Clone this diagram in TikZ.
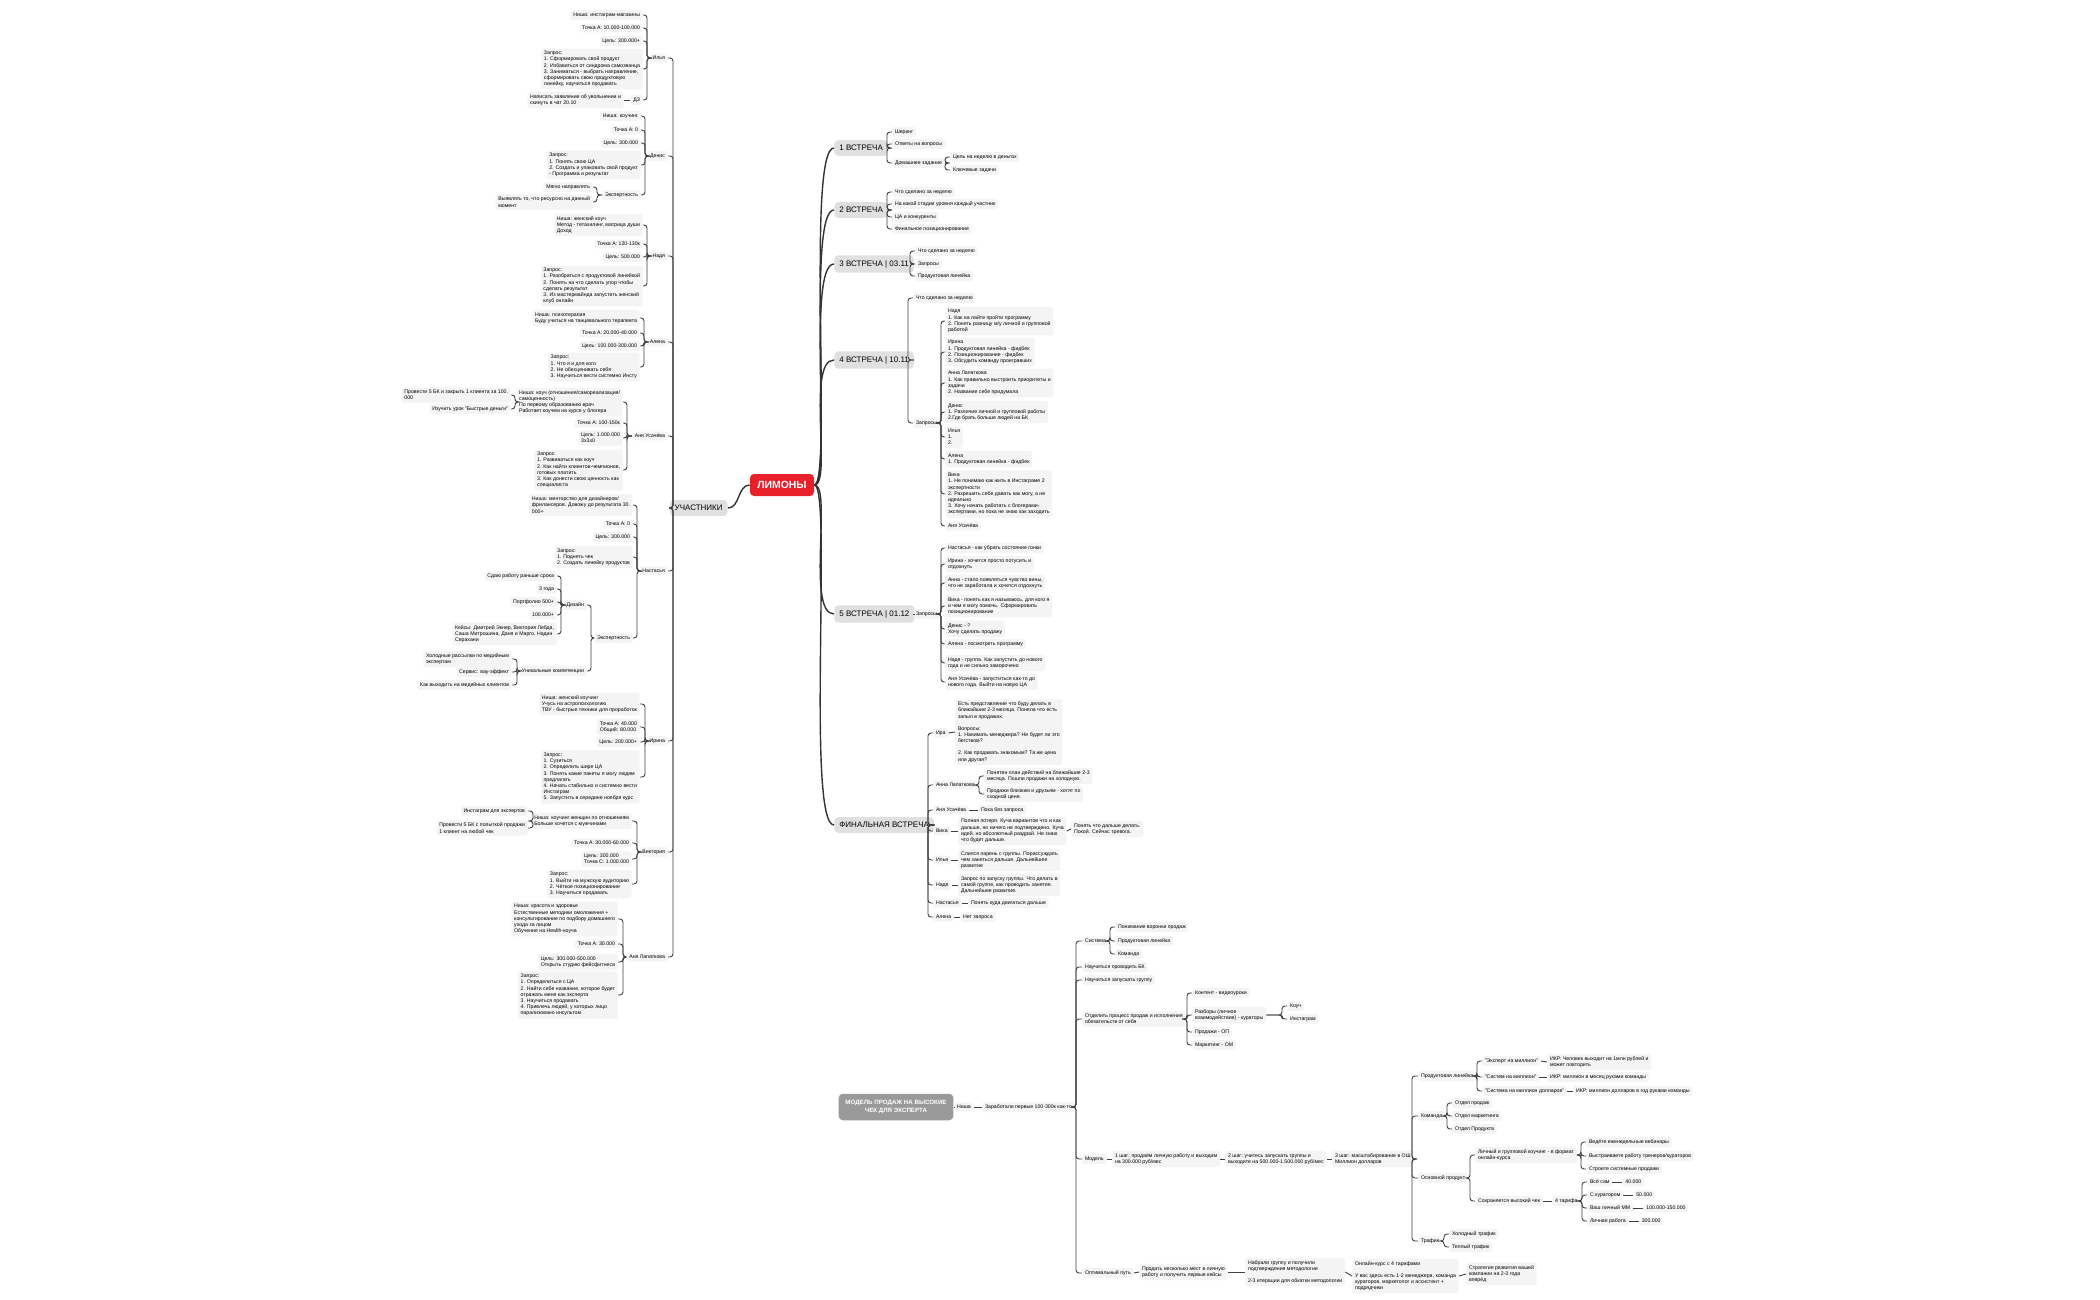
\documentclass[tikz,border=0pt]{standalone}
\usepackage{fontspec}
\setmainfont{Liberation Sans}
\usetikzlibrary{positioning}
\definecolor{lfc}{HTML}{F4F4F4}
\definecolor{limred}{HTML}{E8202A}
\newcommand\ft{\fontsize{2.6}{3.1}\selectfont}
\newcommand\Lc[3]{\draw[ed] (#1.west) -- (perpendicular cs: horizontal line through={(#1.west)}, vertical line through={(#3,0)}) |- (#2.east);}
\newcommand\Rc[3]{\draw[ed] (#1.east) -- (perpendicular cs: horizontal line through={(#1.east)}, vertical line through={(#3,0)}) |- (#2.west);}
\newcommand\Ln[2]{\draw[ed] (#1.east) -- (#2.west);}
\tikzset{
  lf/.style={fill=lfc, rounded corners=1.2pt, inner sep=1.3pt, align=left, font=\ft},
  lL/.style={lf, anchor=east},
  lR/.style={lf, anchor=west},
  meet/.style={fill=black!12, rounded corners=2pt, inner sep=2.5pt, minimum height=7.5pt, anchor=west, font=\fontsize{4}{5}\selectfont},
  ed/.style={draw=black!75, line width=0.45pt, rounded corners=1.5pt},
  big/.style={draw=black!80, line width=0.7pt},
}
\begin{document}
\begin{tikzpicture}[x=0.5pt,y=-0.5pt]
\useasboundingbox (0,0) rectangle (2100,1300);
\fill[white] (0,0) rectangle (2100,1300);
% centre
\node[fill=limred, text=white, rounded corners=2pt, minimum width=32pt, minimum height=11pt, font=\fontsize{5.2}{6}\selectfont\bfseries] (lim) at (782,485) {ЛИМОНЫ};
\node[meet, anchor=east] (uch) at (728,508) {УЧАСТНИКИ};
\draw[big] (lim.west) .. controls +(-12,0) and +(12,0) .. (uch.east);
% participants
\node[lL] (il) at (668,58) {Илья};
\node[lL] (de) at (668,156) {Денис};
\node[lL] (na) at (668,256) {Надя};
\node[lL] (al) at (668,342) {Алена};
\node[lL] (au) at (668,436) {Аня Усачёва};
\node[lL] (ns) at (668,571) {Настасья};
\node[lL] (ir) at (668,741) {Ирина};
\node[lL] (vi) at (668,852) {Виктория};
\node[lL] (ap) at (668,957) {Аня Лапаткова};
\foreach \p in {il,de,na,al,au,ns,ir,vi,ap} {\Lc{uch}{\p}{673}}
% Илья
\node[lL] (i1) at (643,15) {Ниша: инстаграм-магазины};
\node[lL] (i2) at (643,28) {Точка А: 10.000-100.000};
\node[lL] (i3) at (643,41) {Цель: 300.000+};
\node[lL] (i4) at (643,69) {Запрос:\\1. Сформировать свой продукт\\2. Избавиться от синдрома самозванца\\3. Заниматься - выбрать направление,\\сформировать свою продуктовую\\линейку, научиться продавать};
\node[lL] (i5) at (643,100) {ДЗ};
\node[lL] (i6) at (624,100) {Написать заявление об увольнении и\\скинуть в чат 20.10};
\foreach \c in {i1,i2,i3,i4,i5} {\Lc{il}{\c}{647}}
\draw[ed] (i5.west) -- (i6.east);
% Денис
\node[lL] (d1) at (641,116) {Ниша: коучинг};
\node[lL] (d2) at (641,130) {Точка А: 0};
\node[lL] (d3) at (641,143) {Цель: 300.000};
\node[lL] (d4) at (641,165) {Запрос:\\1. Понять свою ЦА\\2. Создать и упаковать свой продукт\\- Программа и результат};
\node[lL] (d5) at (641,195) {Экспертность};
\node[lL] (d6) at (593,187) {Мягко направлять};
\node[lL] (d7) at (593,202) {Выявлять то, что ресурсно на данный\\момент};
\foreach \c in {d1,d2,d3,d4,d5} {\Lc{de}{\c}{645}}
\Lc{d5}{d6}{597}\Lc{d5}{d7}{597}
% Надя
\node[lL] (n1) at (643,225) {Ниша: женский коуч\\Метод - тетахилинг, матрица души\\Доход};
\node[lL] (n2) at (643,244) {Точка А: 120-130к};
\node[lL] (n3) at (643,257) {Цель: 500.000};
\node[lL] (n4) at (643,286) {Запрос:\\1. Разобраться с продуктовой линейкой\\2. Понять на что сделать упор чтобы\\сделать результат\\3. Из мастермайнда запустить женский\\клуб онлайн};
\foreach \c in {n1,n2,n3,n4} {\Lc{na}{\c}{647}}
% Алена
\node[lL] (a1) at (640,318) {Ниша: психотерапия\\Буду учиться на танцевального терапевта};
\node[lL] (a2) at (640,333) {Точка А: 20.000-40.000};
\node[lL] (a3) at (640,346) {Цель: 100.000-300.000};
\node[lL] (a4) at (640,367) {Запрос:\\1. Что я и для кого\\2. Не обесценивать себя\\3. Научиться вести системно Инсту};
\foreach \c in {a1,a2,a3,a4} {\Lc{al}{\c}{644}}
% Аня Усачёва
\node[lL] (u1) at (623,402) {Ниша: коуч (отношения/самореализация/\\самоценность)\\По первому образованию врач\\Работает коучем на курсе у блогера};
\node[lL] (u2) at (623,423) {Точка А: 100-150к};
\node[lL] (u3) at (623,438) {Цель: 1.000.000\\3х3х0};
\node[lL] (u4) at (623,470) {Запрос:\\1. Развиваться как коуч\\2. Как найти клиентов-чемпионов,\\готовых платить\\3. Как донести свою ценность как\\специалиста};
\node[lL] (u5) at (511,395) {Провести 5 БК и закрыть 1 клиента за 100.\\000};
\node[lL] (u6) at (511,409) {Изучить урок "Быстрые деньги"};
\foreach \c in {u1,u2,u3,u4} {\Lc{au}{\c}{627}}
\Lc{u1}{u5}{515}\Lc{u1}{u6}{515}
% Настасья
\node[lL] (s1) at (633,505) {Ниша: менторство для дизайнеров/\\фрилансеров. Довожу до результата 30.\\000+};
\node[lL] (s2) at (633,524) {Точка А: 0};
\node[lL] (s3) at (633,537) {Цель: 300.000};
\node[lL] (s4) at (633,557) {Запрос:\\1. Поднять чек\\2. Создать линейку продуктов};
\node[lL] (s5) at (633,638) {Экспертность};
\foreach \c in {s1,s2,s3,s4,s5} {\Lc{ns}{\c}{637}}
\node[lL] (s6) at (587,605) {Дизайн};
\node[lL] (s7) at (587,671) {Уникальные компетенции};
\Lc{s5}{s6}{591}\Lc{s5}{s7}{591}
\node[lL] (s8) at (557,576) {Сдаю работу раньше срока};
\node[lL] (s9) at (557,589) {3 года};
\node[lL] (s10) at (557,602) {Портфолио 500+};
\node[lL] (s11) at (557,615) {100.000+};
\node[lL] (s12) at (557,634) {Кейсы: Дмитрий Экнер, Виктория Лебда,\\Саша Митрошина, Даня и Марго, Надин\\Серахани};
\foreach \c in {s8,s9,s10,s11,s12} {\Lc{s6}{\c}{561}}
\node[lL] (s13) at (512,659) {Холодные рассылки по медийным\\экспертам};
\node[lL] (s14) at (512,672) {Сервис: вау-эффект};
\node[lL] (s15) at (512,685) {Как выходить на медийных клиентов};
\foreach \c in {s13,s14,s15} {\Lc{s7}{\c}{517}}
% Ирина
\node[lL] (r1) at (640,704) {Ниша: женский коучинг\\Учусь на астропсихологию\\ТВУ - быстрые техники для проработок};
\node[lL] (r2) at (640,727) {Точка А: 40.000\\Общий: 80.000};
\node[lL] (r3) at (640,742) {Цель: 200.000+};
\node[lL] (r4) at (640,777) {Запрос:\\1. Сузиться\\2. Определить шире ЦА\\3. Понять какие пакеты я могу людям\\предлагать\\4. Начать стабильно и системно вести\\Инстаграм\\5. Запустить в середине ноября курс};
\foreach \c in {r1,r2,r3,r4} {\Lc{ir}{\c}{645}}
% Виктория
\node[lL] (v1) at (632,821) {Ниша: коучинг женщин по отношениям\\Больше хочется с мужчинами};
\node[lL] (v2) at (632,843) {Точка А: 30.000-60.000};
\node[lL] (v3) at (632,859) {Цель: 300.000\\Точка С: 1.000.000};
\node[lL] (v4) at (632,884) {Запрос:\\1. Выйти на мужскую аудиторию\\2. Чёткое позиционирование\\3. Научиться продавать};
\foreach \c in {v1,v2,v3,v4} {\Lc{vi}{\c}{637}}
\node[lL] (v5) at (528,811) {Инстаграм для экспертов};
\node[lL] (v6) at (528,828) {Провести 5 БК с попыткой продажи\\1 клиент на любой чек};
\Lc{v1}{v5}{533}\Lc{v1}{v6}{533}
% Аня Лапаткова
\node[lL] (l1) at (618,919) {Ниша: красота и здоровье\\Естественные методики омоложения +\\консультирование по подбору домашнего\\ухода за лицом\\Обучение на Health-коуча};
\node[lL] (l2) at (618,944) {Точка А: 30.000};
\node[lL] (l3) at (618,962) {Цель: 300.000-500.000\\Открыть студию фейсфитнеса};
\node[lL] (l4) at (618,995) {Запрос:\\1. Определиться с ЦА\\2. Найти себе название, которое будет\\отражать меня как эксперта\\3. Научиться продавать\\4. Привлечь людей, у которых лицо\\парализовано инсультом};
\foreach \c in {l1,l2,l3,l4} {\Lc{ap}{\c}{623}}
% meetings
\node[meet] (m1) at (834,148) {1 ВСТРЕЧА};
\node[meet] (m2) at (834,210) {2 ВСТРЕЧА};
\node[meet] (m3) at (834,264) {3 ВСТРЕЧА | 03.11};
\node[meet] (m4) at (834,360) {4 ВСТРЕЧА | 10.11};
\node[meet] (m5) at (834,614) {5 ВСТРЕЧА | 01.12};
\node[meet] (m6) at (834,825) {ФИНАЛЬНАЯ ВСТРЕЧА};
\foreach \m in {m1,m2,m3,m4,m5,m6} {\draw[big] (lim.east) .. controls +(18,0) and +(-28,0) .. (\m.west);}
% m1
\node[lR] (a11) at (892,132) {Шеринг};
\node[lR] (a12) at (892,144) {Ответы на вопросы};
\node[lR] (a13) at (892,163) {Домашнее задание};
\foreach \c in {a11,a12,a13} {\Rc{m1}{\c}{887}}
\node[lR] (a14) at (950,157) {Цель на неделю в деньгах};
\node[lR] (a15) at (950,170) {Ключевые задачи};
\Rc{a13}{a14}{945}\Rc{a13}{a15}{945}
% m2
\node[lR] (b1) at (892,192) {Что сделано за неделю};
\node[lR] (b2) at (892,204) {На какой стадии уровня каждый участник};
\node[lR] (b3) at (892,217) {ЦА и конкуренты};
\node[lR] (b4) at (892,229) {Финальное позиционирование};
\foreach \c in {b1,b2,b3,b4} {\Rc{m2}{\c}{887}}
% m3
\node[lR] (c1) at (915,251) {Что сделано за неделю};
\node[lR] (c2) at (915,264) {Запросы};
\node[lR] (c3) at (915,276) {Продуктовая линейка};
\foreach \c in {c1,c2,c3} {\Rc{m3}{\c}{910}}
% m4
\node[lR] (e1) at (913,298) {Что сделано за неделю};
\node[lR] (e2) at (913,423) {Запросы};
\Rc{m4}{e1}{908}\Rc{m4}{e2}{908}
\node[lR] (e3) at (945,321) {Надя\\1. Как на лайте пройти программу\\2. Понять разницу м/у личной и групповой\\работой};
\node[lR] (e4) at (945,352) {Ирина\\1. Продуктовая линейка - фидбек\\2. Позиционирование - фидбек\\3. Обсудить команду проигравших};
\node[lR] (e5) at (945,383) {Анна Лапаткова\\1. Как правильно выстроить приоритеты и\\задачи\\2. Название себе придумала};
\node[lR] (e6) at (945,412) {Денис\\1. Различие личной и групповой работы\\2.Где брать больше людей на БК};
\node[lR] (e7) at (945,437) {Илья\\1.\\2.};
\node[lR] (e8) at (945,459) {Алена\\1. Продуктовая линейка - фидбек};
\node[lR] (e9) at (945,494) {Вика\\1. Не понимаю как жить в Инстаграме 2\\экспертности\\2. Разрешить себе давать как могу, а не\\идеально\\3. Хочу начать работать с блогерами-\\экспертами, но пока не знаю как заходить};
\node[lR] (e10) at (945,526) {Аня Усачёва};
\foreach \c in {e3,e4,e5,e6,e7,e8,e9,e10} {\Rc{e2}{\c}{941}}
% m5
\node[lR] (f0) at (913,614) {Запросы};
\Ln{m5}{f0}
\node[lR] (f1) at (945,548) {Настасья - как убрать состояние гонки};
\node[lR] (f2) at (945,564) {Ирина - хочется просто потусить и\\отдохнуть};
\node[lR] (f3) at (945,583) {Анна - стало появляться чувство вины,\\что не заработала и хочется отдохнуть};
\node[lR] (f4) at (945,606) {Вика - понять как я называюсь, для кого я\\и чем я могу помочь. Сформировать\\позиционирование};
\node[lR] (f5) at (945,629) {Денис - ?\\Хочу сделать продажу};
\node[lR] (f6) at (945,644) {Алена - посмотреть программу};
\node[lR] (f7) at (945,663) {Надя - группа. Как запустить до нового\\года и не сильно заморочено};
\node[lR] (f8) at (945,682) {Аня Усачёва - запуститься как-то до\\нового года. Выйти на новую ЦА};
\foreach \c in {f1,f2,f3,f4,f5,f6,f7,f8} {\Rc{f0}{\c}{941}}
% m6
\node[lR] (g1) at (933,733) {Ира};
\node[lR] (g2) at (933,785) {Анна Лапаткова};
\node[lR] (g3) at (933,810) {Аня Усачёва};
\node[lR] (g4) at (933,831) {Вика};
\node[lR] (g5) at (933,860) {Илья};
\node[lR] (g6) at (933,885) {Надя};
\node[lR] (g7) at (933,903) {Настасья};
\node[lR] (g8) at (933,917) {Алена};
\foreach \c in {g1,g2,g3,g4,g5,g6,g7,g8} {\Rc{m6}{\c}{928}}
\node[lR] (h1) at (955,732) {Есть представление что буду делать в\\ближайшие 2-3 месяца. Поняла что есть\\запыл в продажах.\\[3pt]Вопросы:\\1. Нанимать менеджера? Не будет ли это\\бегством?\\[3pt]2. Как продавать знакомым? Та же цена\\или другая?};
\Ln{g1}{h1}
\node[lR] (h2) at (984,776) {Понятен план действий на ближайшие 2-3\\месяца. Пошли продажи на холодную.};
\node[lR] (h3) at (984,794) {Продажи близким и друзьям - хотят по\\сходной цене.};
\Rc{g2}{h2}{979}\Rc{g2}{h3}{979}
\node[lR] (h4) at (978,810) {Пока без запроса};
\Ln{g3}{h4}
\node[lR] (h5) at (958,831) {Полная потеря. Куча вариантов что и как\\дальше, но ничего не подтверждено. Куча\\идей, но абсолютный раздрай. Не знаю\\что будет дальше.};
\Ln{g4}{h5}
\node[lR] (h6) at (1071,829) {Понять что дальше делать.\\Покой. Сейчас тревога.};
\Ln{h5}{h6}
\node[lR] (h7) at (958,860) {Слился парень с группы. Порассуждать\\чем заняться дальше. Дальнейшее\\развитие};
\Ln{g5}{h7}
\node[lR] (h8) at (958,885) {Запрос по запуску группы. Что делать в\\самой группе, как проводить занятия.\\Дальнейшее развитие.};
\Ln{g6}{h8}
\node[lR] (h9) at (968,903) {Понять куда двигаться дальше};
\Ln{g7}{h9}
\node[lR] (h10) at (960,917) {Нет запроса};
\Ln{g8}{h10}
% model
\node[fill=black!40, text=white, rounded corners=2pt, minimum width=49pt, minimum height=10.5pt, align=center, font=\fontsize{3.1}{3.8}\selectfont\bfseries] (mod) at (896,1107) {МОДЕЛЬ ПРОДАЖ НА ВЫСОКИЕ\\ЧЕК ДЛЯ ЭКСПЕРТА};
\node[lf] (ni) at (964,1107) {Ниша};
\node[lR] (za) at (982,1107) {Заработали первые 100-300к как-то};
\Ln{mod}{ni}\Ln{ni}{za}
\node[lR] (sy) at (1082,941) {Система};
\node[lR] (bk) at (1082,967) {Научиться проводить БК};
\node[lR] (gr) at (1082,980) {Научиться запускать группу};
\node[lR] (ot) at (1082,1019) {Отделить процесс продаж и исполнения\\обязательств от себя};
\node[lR] (mo) at (1082,1159) {Модель};
\node[lR] (op) at (1082,1273) {Оптимальный путь};
\foreach \c in {sy,bk,gr,ot,mo,op} {\Rc{za}{\c}{1076}}
\node[lR] (sy1) at (1115,927) {Понимание воронки продаж};
\node[lR] (sy2) at (1115,941) {Продуктовая линейка};
\node[lR] (sy3) at (1115,954) {Команда};
\foreach \c in {sy1,sy2,sy3} {\Rc{sy}{\c}{1110}}
\node[lR] (ot1) at (1192,993) {Контент - видеоуроки};
\node[lR] (ot2) at (1192,1015) {Разборы (личное\\взаимодействие) - кураторы};
\node[lR] (ot3) at (1192,1032) {Продажи - ОП};
\node[lR] (ot4) at (1192,1045) {Маркетинг - ОМ};
\foreach \c in {ot1,ot2,ot3,ot4} {\Rc{ot}{\c}{1187}}
\node[lR] (ot5) at (1287,1006) {Коуч};
\node[lR] (ot6) at (1287,1019) {Инстаграм};
\Rc{ot2}{ot5}{1282}\Rc{ot2}{ot6}{1282}
\node[lR] (st1) at (1112,1159) {1 шаг: продаём личную работу и выходим\\на 300.000 руб/мес};
\node[lR] (st2) at (1225,1159) {2 шаг: учитесь запускать группы и\\выходите на 500.000-1.500.000 руб/мес};
\node[lR] (st3) at (1332,1159) {3 шаг: масштабирование в ОШ\\Миллион долларов};
\Ln{mo}{st1}\Ln{st1}{st2}\Ln{st2}{st3}
\node[lR] (pl) at (1418,1076) {Продуктовая линейка};
\node[lR] (ko) at (1418,1116) {Команда};
\node[lR] (os) at (1418,1178) {Основной продукт};
\node[lR] (tf) at (1418,1241) {Трафик};
\foreach \c in {pl,ko,os,tf} {\Rc{st3}{\c}{1412}}
\node[lR] (pl1) at (1482,1061) {"Эксперт на миллион"};
\node[lR] (pl2) at (1482,1077) {"Систем на миллион"};
\node[lR] (pl3) at (1482,1091) {"Система на миллион долларов"};
\foreach \c in {pl1,pl2,pl3} {\Rc{pl}{\c}{1477}}
\node[lR] (ik1) at (1547,1062) {ИКР: Человек выходит на 1млн рублей и\\может повторить};
\node[lR] (ik2) at (1547,1077) {ИКР: миллион в месяц руками команды};
\node[lR] (ik3) at (1573,1091) {ИКР: миллион долларов в год руками команды};
\Ln{pl1}{ik1}\Ln{pl2}{ik2}\Ln{pl3}{ik3}
\node[lR] (ko1) at (1452,1103) {Отдел продаж};
\node[lR] (ko2) at (1452,1116) {Отдел маркетинга};
\node[lR] (ko3) at (1452,1129) {Отдел Продукта};
\foreach \c in {ko1,ko2,ko3} {\Rc{ko}{\c}{1447}}
\node[lR] (lg) at (1475,1155) {Личный и групповой коучинг - в формат\\онлайн-курса};
\node[lR] (sv) at (1475,1201) {Сохраняется высокий чек};
\Rc{os}{lg}{1470}\Rc{os}{sv}{1470}
\node[lR] (lg1) at (1586,1142) {Ведёте еженедельные вебинары};
\node[lR] (lg2) at (1586,1156) {Выстраиваете работу тренеров/кураторов};
\node[lR] (lg3) at (1586,1169) {Строите системные продажи};
\foreach \c in {lg1,lg2,lg3} {\Rc{lg}{\c}{1581}}
\node[lR] (t4) at (1552,1201) {4 тарифа};
\Ln{sv}{t4}
\node[lR] (k1) at (1587,1182) {Всё сам};
\node[lR] (k2) at (1587,1195) {С куратором};
\node[lR] (k3) at (1587,1208) {Ваш личный ММ};
\node[lR] (k4) at (1587,1221) {Личная работа};
\foreach \c in {k1,k2,k3,k4} {\Rc{t4}{\c}{1582}}
\node[lf, right=5pt of k1] (w1) {40.000};
\node[lf, right=5pt of k2] (w2) {50.000};
\node[lf, right=5pt of k3] (w3) {100.000-150.000};
\node[lf, right=5pt of k4] (w4) {300.000};
\Ln{k1}{w1}\Ln{k2}{w2}\Ln{k3}{w3}\Ln{k4}{w4}
\node[lR] (tf1) at (1449,1234) {Холодный трафик};
\node[lR] (tf2) at (1449,1247) {Теплый трафик};
\Rc{tf}{tf1}{1444}\Rc{tf}{tf2}{1444}
\node[lR] (p1) at (1139,1272) {Продать несколько мест в личную\\работу и получить первые кейсы};
\node[lR] (p2) at (1245,1272) {Набрали группу и получили\\подтверждения методологии\\[3pt]2-3 итерации для обкатки методологии};
\node[lR] (p3) at (1352,1276) {Онлайн-курс с 4 тарифами\\[3pt]У вас здесь есть 1-2 менеджера, команда\\кураторов, маркетолог и ассистент +\\подрядчики};
\node[lR] (p4) at (1466,1274) {Стратегия развития вашей\\компании на 2-3 года\\вперёд};
\Ln{op}{p1}\Ln{p1}{p2}\Ln{p2}{p3}\Ln{p3}{p4}
\end{tikzpicture}
\end{document}
